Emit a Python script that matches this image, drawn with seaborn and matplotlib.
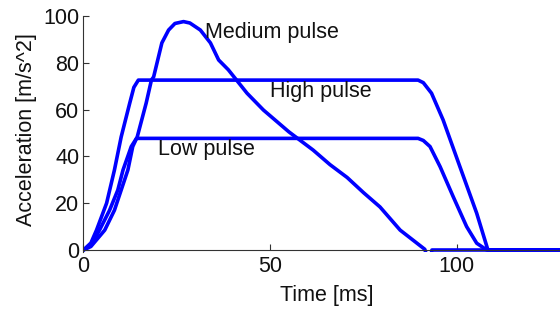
import matplotlib
matplotlib.use('Agg')
import matplotlib.pyplot as plt
import seaborn as sns

# Pulse data (time in ms, acceleration in m/s^2)
t_low = [0, 2, 4.3, 7, 9.2, 10.6, 12.8, 14.2, 89.6, 91, 92.8, 95.5, 99, 102.6, 105.3, 108, 140]
a_low = [0, 2, 8.5, 17, 25.6, 34.2, 44.2, 47.7, 47.7, 46.8, 44.2, 35.6, 22.8, 10, 2.9, 0, 0]

t_med = [0, 2, 5.7, 8.3, 10.1, 11.9, 13.2, 14.4, 16.8, 18.2, 18.8, 21, 22.8, 24.5, 26.8,
         28.5, 31.3, 34, 36.2, 38.8, 41, 43.8, 48.2, 55, 61.5, 66, 70.6, 75, 79.4, 84.8,
         91.4, 92, 93, 93.3, 140]
a_med = [0, 1.5, 8.5, 17, 25.6, 34.2, 44.2, 48.3, 62.8, 72.6, 74, 88.5, 94, 96.8, 97.6,
         97, 94, 88.5, 81.2, 77, 72.6, 67, 59.8, 50.5, 42.7, 36.5, 31, 24.5, 18.4, 8.5,
         0.3, -3, -3, 0, 0]

t_high = [0, 2, 3.5, 6.2, 8.3, 10.1, 12.4, 13.5, 14.7, 89.6, 91, 93.2, 96.3, 100.8, 105.3, 108.3, 140]
a_high = [0, 3, 8.5, 20, 34.2, 48.3, 62.8, 69.5, 72.6, 72.6, 71.5, 67, 55.6, 35.6, 15.7, 0, 0]

labels = ['Low pulse', 'Medium pulse', 'High pulse']
label_pos = [(19.9, 40.6), (32.5, 90.5), (49.9, 65.5)]

sns.set_style("ticks")
plt.rcParams['font.family'] = ['Liberation Sans', 'DejaVu Sans']

fig = plt.figure(figsize=(5.6, 3.11), dpi=100)
ax = fig.add_axes([0.149, 0.1886, 0.851, 0.760])

for t, a in [(t_low, a_low), (t_med, a_med), (t_high, a_high)]:
    sns.lineplot(x=t, y=a, ax=ax, color='#0000ff', linewidth=2.6, estimator=None)

for txt, (x, y) in zip(labels, label_pos):
    ax.text(x, y, txt, fontsize=15.5, va='baseline', ha='left', color='#111111')

ax.set_xlim(0, 127.6)
ax.set_ylim(-1, 100)
ax.spines['bottom'].set_position(('data', 0))
sns.despine(ax=ax)
for s in ['left', 'bottom']:
    ax.spines[s].set_color('#333333')
    ax.spines[s].set_linewidth(0.8)

ax.set_xticks([0, 50, 100])
ax.set_yticks([0, 20, 40, 60, 80, 100])
ax.tick_params(direction='in', length=4, width=0.8, color='#333333',
               labelsize=15.5, labelcolor='#111111')
ax.tick_params(axis='x', pad=4)
ax.tick_params(axis='y', pad=3)

ax.set_xlabel('Time [ms]', fontsize=15.5, color='#111111')
ax.set_ylabel('Acceleration [m/s^2]', fontsize=15.5, color='#111111')
ax.xaxis.set_label_coords(0.51, -0.14)
ax.yaxis.set_label_coords(-0.098, 0.52)

fig.savefig('out.png', dpi=100)
